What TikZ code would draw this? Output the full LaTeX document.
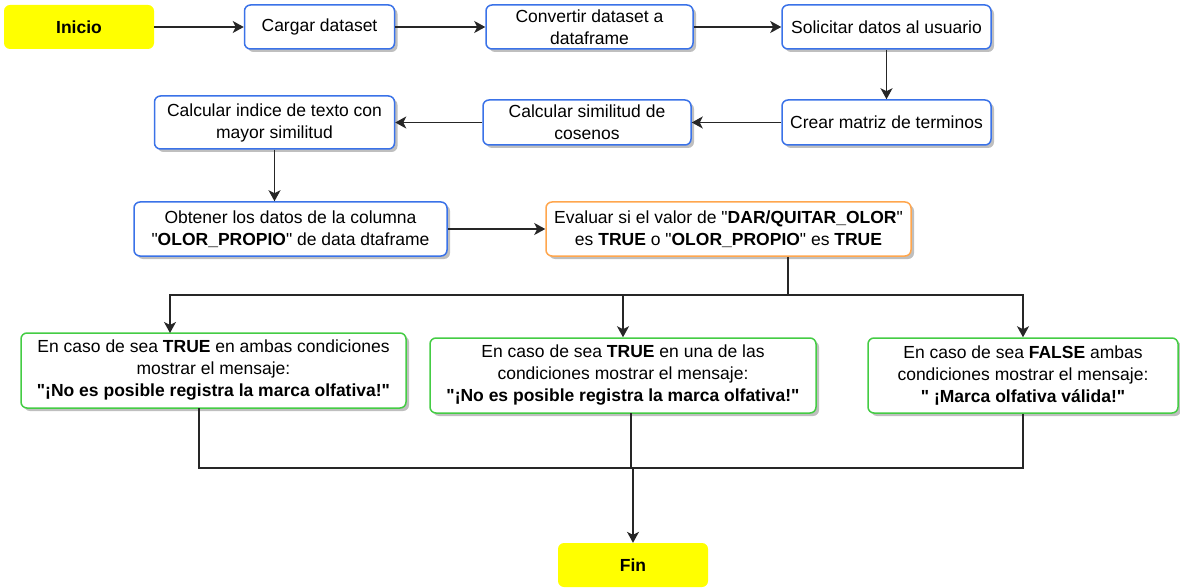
\documentclass[tikz,border=0pt]{standalone}
\usepackage{fontspec}
\setmainfont{Liberation Sans}
\usetikzlibrary{arrows.meta,shadows}

\definecolor{bordeazul}{RGB}{58,114,232}
\definecolor{bordenaranja}{RGB}{255,166,77}
\definecolor{bordeverde}{RGB}{68,204,68}
\definecolor{amarillo}{RGB}{255,255,0}

\newcommand{\entrecomillas}[1]{\textquotedbl#1\textquotedbl}

\tikzset{
  paso/.style={draw=bordeazul, line width=1.5pt, rounded corners=6pt, fill=white,
    drop shadow={shadow xshift=3pt, shadow yshift=-3pt, fill=black, opacity=.25},
    align=center, inner sep=1pt, font=\fontsize{17.5}{22}\selectfont},
  decision/.style={paso, draw=bordenaranja},
  mensaje/.style={paso, draw=bordeverde},
  terminal/.style={fill=amarillo, rounded corners=6pt, align=center,
    font=\fontsize{17.5}{22}\selectfont\bfseries},
  flecha/.style={line width=1.3pt, draw=black!85, -{Stealth[length=11pt,width=12pt,inset=3pt]}},
  linea/.style={line width=1.3pt, draw=black!85}
}

\begin{document}
\begin{tikzpicture}[x=1pt,y=-1pt]
            \useasboundingbox (0,0) rectangle (1180,588);
            % Fila superior
            \node[terminal, minimum width=150pt, minimum height=44pt] (inicio) at (79,27) {Inicio};
            \node[paso, minimum width=150pt, minimum height=44pt] (cargar) at (319.5,27) {Cargar dataset};
            \node[paso, minimum width=207pt, minimum height=44pt] (convertir) at (589.5,27) {Convertir dataset a\\dataframe};
            \node[paso, minimum width=209pt, minimum height=44pt] (solicitar) at (886.5,27) {Solicitar datos al usuario};
            % Segunda fila
            \node[paso, minimum width=209pt, minimum height=45pt] (crear) at (886.5,122.5) {Crear matriz de terminos};
            \node[paso, minimum width=208pt, minimum height=45pt] (similitud) at (587,122.5) {Calcular similitud de\\cosenos};
            \node[paso, minimum width=240pt, minimum height=53pt] (indice) at (274.5,122.5) {Calcular indice de texto con\\mayor similitud};
            % Tercera fila
            \node[paso, minimum width=313pt, minimum height=54pt] (obtener) at (290.5,229) {Obtener los datos de la columna\\\entrecomillas{\textbf{OLOR\_PROPIO}} de data dtaframe};
            \node[decision, minimum width=365pt, minimum height=54pt] (evaluar) at (728.5,229) {Evaluar si el valor de \entrecomillas{\textbf{DAR/QUITAR\_OLOR}}\\es \textbf{TRUE} o \entrecomillas{\textbf{OLOR\_PROPIO}} es \textbf{TRUE}};
            % Casos
            \node[mensaje, minimum width=385pt, minimum height=75pt] (casoA) at (213.5,370.5) {En caso de sea \textbf{TRUE} en ambas condiciones\\mostrar el mensaje:\\\textbf{\entrecomillas{¡No es posible registra la marca olfativa!}}};
            \node[mensaje, minimum width=386pt, minimum height=75pt] (casoB) at (623,375.5) {En caso de sea \textbf{TRUE} en una de las\\condiciones mostrar el mensaje:\\\textbf{\entrecomillas{¡No es posible registra la marca olfativa!}}};
            \node[mensaje, minimum width=310pt, minimum height=75pt] (casoC) at (1023,375.5) {En caso de sea \textbf{FALSE} ambas\\condiciones mostrar el mensaje:\\\textbf{\entrecomillas{ ¡Marca olfativa válida!}}};
            \node[terminal, minimum width=150pt, minimum height=44pt] (fin) at (633,565) {Fin};

            % Puntos de reparto y de union
            \coordinate (reparto) at (788,295);
            \coordinate (union) at (633,468);

            % Conectores
            \draw[flecha] (inicio) -- (cargar);
            \draw[flecha] (cargar) -- (convertir);
            \draw[flecha] (convertir) -- (solicitar);
            \draw[flecha] (solicitar) -- (crear);
            \draw[flecha] (crear) -- (similitud);
            \draw[flecha] (similitud) -- (indice);
            \draw[flecha] (indice.south) -- (indice.south |- obtener.north);
            \draw[flecha] (obtener.east |- evaluar.west) -- (evaluar.west);
            \draw[linea] (reparto |- evaluar.south) -- (reparto);
            \draw[flecha] (reparto) -| (170,333);
            \draw[flecha] (reparto) -| (casoB.north);
            \draw[flecha] (reparto) -| (casoC.north);
            \draw[linea] (199,408) |- (union);
            \draw[linea] (631,413) -- (631,468);
            \draw[linea] (casoC.south) |- (union);
            \draw[flecha] (union) -- (fin.north);
        \end{tikzpicture}
\end{document}
